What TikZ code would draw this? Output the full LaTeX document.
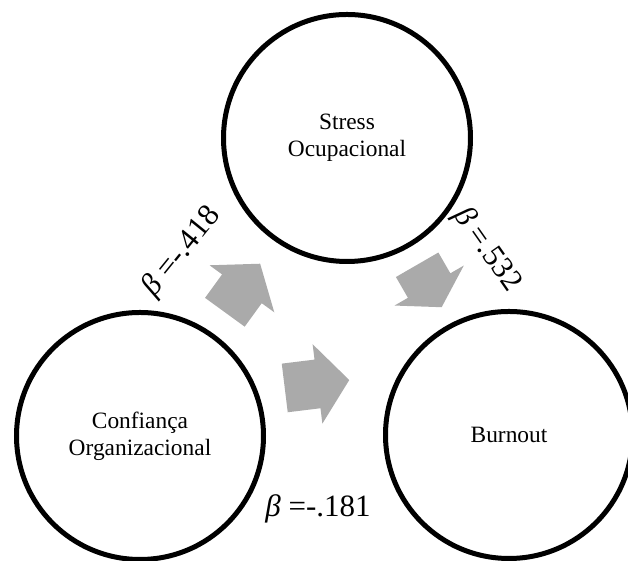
\documentclass[tikz,border=0pt]{standalone}
\usepackage{fontspec}
\setmainfont{Liberation Serif}
\definecolor{arrowgray}{RGB}{170,170,170}

\begin{document}
\begin{tikzpicture}[
                x=0.5pt, y=0.5pt,
                construct/.style={circle, draw=black, line width=2.5pt,
                    minimum size=123.5pt, inner sep=0pt, align=center,
                    font=\fontsize{11.7}{13.5}\selectfont},
                coef/.style={inner sep=0pt, font=\fontsize{15.5}{18}\selectfont} ]

            \useasboundingbox (0,0) rectangle (628,561);
            \clip (0,0) rectangle (628,561);

            % the three constructs
            \node[construct] (S) at (347,423) {Stress\\Ocupacional};
            \node[construct] (C) at (140,125) {Confiança\\Organizacional};
            \node[construct] (B) at (509,126) {Burnout};

            % block arrows: centre x / centre y / angle / length / head length
            \foreach \cx/\cy/\ang/\len/\hd in {242.5/273/54/60/31, 317/177/7/65/32, 429.4/275/-60/49/25} {
                    \fill[arrowgray, shift={(\cx,\cy)}, rotate=\ang]
                    (-\len/2,-24.5) -- (\len/2-\hd,-24.5) -- (\len/2-\hd,-40)
                    -- (\len/2,0) -- (\len/2-\hd,40) -- (\len/2-\hd,24.5)
                    -- (-\len/2,24.5) -- cycle;
                }

            \node[coef, rotate=51] (SC) at (182,309) {\textit{β} =-.418};
            \node[coef, rotate=-55] (SB) at (487,311) {\textit{β} =.532};
            \node[coef] (CB) at (318,52) {\textit{β} =-.181};
        \end{tikzpicture}
\end{document}
